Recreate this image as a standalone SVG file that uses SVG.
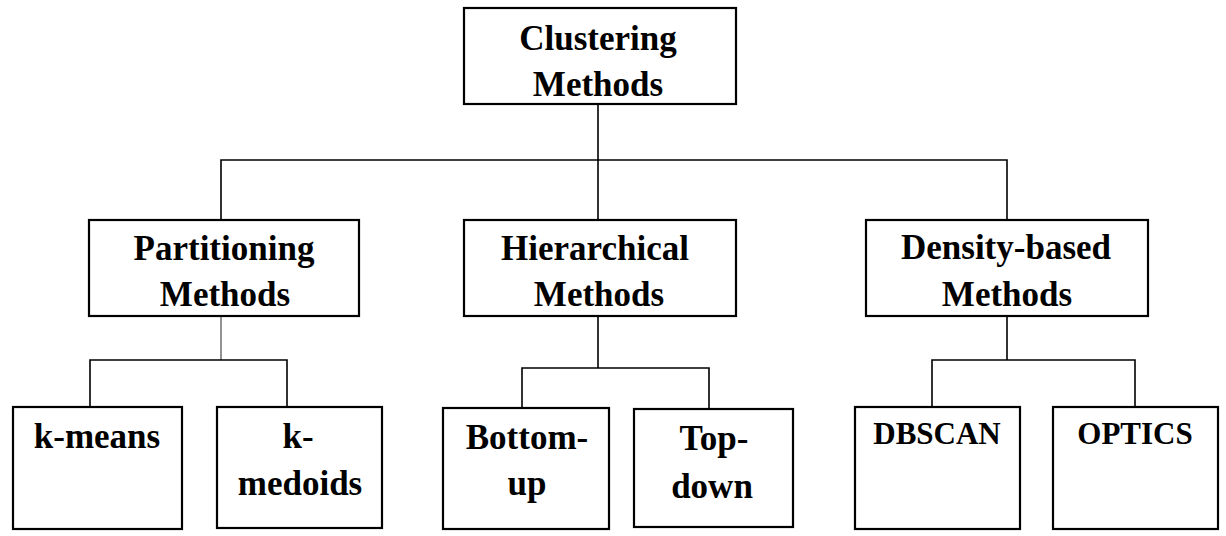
<svg xmlns="http://www.w3.org/2000/svg" width="1226" height="536" viewBox="0 0 1226 536">
<style>
.box{fill:#fff;stroke:#000;stroke-width:2.2}
.con{fill:none;stroke:#000;stroke-width:1.6}
.t{font-family:"Liberation Serif","Times New Roman",serif;font-weight:bold;font-size:35px;text-anchor:middle;fill:#000}
.s{font-size:31px}
</style>
<rect width="1226" height="536" fill="#fff"/>
<g id="connectors">
<path class="con" d="M598,104 V220 M221,220 V160 H1007 V220"/>
<path class="con" d="M221,316 V360" stroke="#777" style="stroke:#777"/>
<path class="con" d="M90,407 V360 H287 V407"/>
<path class="con" d="M598,316 V368 M522,408 V368 H709 V409"/>
<path class="con" d="M1007,316 V360 M932,407 V360 H1135 V407"/>
</g>
<g id="root"><rect class="box" x="464" y="8" width="272" height="96"/>
<text class="t" x="598" y="50">Clustering</text><text class="t" x="598" y="96">Methods</text></g>
<g id="partitioning"><rect class="box" x="89" y="220" width="270" height="96"/>
<text class="t" x="224" y="260">Partitioning</text><text class="t" x="225" y="306">Methods</text></g>
<g id="hierarchical"><rect class="box" x="464" y="220" width="272" height="96"/>
<text class="t" x="595" y="260">Hierarchical</text><text class="t" x="599" y="306">Methods</text></g>
<g id="density"><rect class="box" x="866" y="220" width="282" height="96"/>
<text class="t" x="1006" y="259">Density-based</text><text class="t" x="1007" y="306">Methods</text></g>
<g id="kmeans"><rect class="box" x="13" y="407" width="169" height="122"/>
<text class="t" x="97" y="448">k-means</text></g>
<g id="kmedoids"><rect class="box" x="217" y="407" width="165" height="121"/>
<text class="t" x="298" y="448">k-</text><text class="t" x="300" y="495">medoids</text></g>
<g id="bottomup"><rect class="box" x="443" y="408" width="166" height="121"/>
<text class="t" x="527" y="449">Bottom-</text><text class="t" x="527" y="495">up</text></g>
<g id="topdown"><rect class="box" x="634" y="409" width="159" height="118"/>
<text class="t" x="714" y="450">Top-</text><text class="t" x="712" y="498">down</text></g>
<g id="dbscan"><rect class="box" x="855" y="407" width="165" height="122"/>
<text class="t s" x="937" y="444">DBSCAN</text></g>
<g id="optics"><rect class="box" x="1053" y="407" width="165" height="122"/>
<text class="t s" x="1135" y="444">OPTICS</text></g>
</svg>
